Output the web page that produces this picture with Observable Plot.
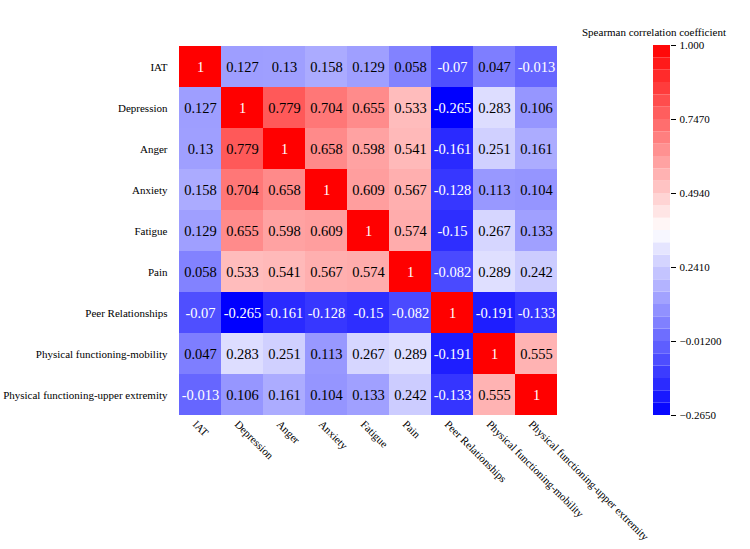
<!DOCTYPE html>
<html>
<head>
<meta charset="utf-8">
<script src="https://cdn.jsdelivr.net/npm/d3@7"></script>
<script src="https://cdn.jsdelivr.net/npm/@observablehq/plot@0.6"></script>
<style>
  body { margin: 0; background: #fff; }
  #wrap { position: relative; width: 750px; height: 549px; font-family: "Liberation Serif", "DejaVu Serif", serif; }
  #wrap svg, #wrap svg text { font-family: "Liberation Serif", "DejaVu Serif", serif !important; }
  #wrap svg { overflow: visible; }
  #main, #bar { position: absolute; top: 0; }
  #main { left: 0; }
  #bar { left: 570px; }
  #title { position: absolute; left: 582px; top: 26px; font-size: 11px; color: #000; white-space: nowrap; }
</style>
</head>
<body>
<div id="wrap">
  <div id="main"></div>
  <div id="bar"></div>
  <div id="title">Spearman correlation coefficient</div>
</div>
<script>
const variables = ["IAT", "Depression", "Anger", "Anxiety", "Fatigue", "Pain", "Peer Relationships", "Physical functioning-mobility", "Physical functioning-upper extremity"];

const rowIAT        = [1, 0.127, 0.13, 0.158, 0.129, 0.058, -0.07, 0.047, -0.013];
const rowDepression = [0.127, 1, 0.779, 0.704, 0.655, 0.533, -0.265, 0.283, 0.106];
const rowAnger      = [0.13, 0.779, 1, 0.658, 0.598, 0.541, -0.161, 0.251, 0.161];
const rowAnxiety    = [0.158, 0.704, 0.658, 1, 0.609, 0.567, -0.128, 0.113, 0.104];
const rowFatigue    = [0.129, 0.655, 0.598, 0.609, 1, 0.574, -0.15, 0.267, 0.133];
const rowPain       = [0.058, 0.533, 0.541, 0.567, 0.574, 1, -0.082, 0.289, 0.242];
const rowPeer       = [-0.07, -0.265, -0.161, -0.128, -0.15, -0.082, 1, -0.191, -0.133];
const rowMobility   = [0.047, 0.283, 0.251, 0.113, 0.267, 0.289, -0.191, 1, 0.555];
const rowUpper      = [-0.013, 0.106, 0.161, 0.104, 0.133, 0.242, -0.133, 0.555, 1];

const colorbarTicks = [1, 0.747, 0.494, 0.241, -0.012, -0.265];
const colorbarTickLabels = ["1.000", "0.7470", "0.4940", "0.2410", "\u22120.01200", "\u22120.2650"];

const rows = [rowIAT, rowDepression, rowAnger, rowAnxiety, rowFatigue, rowPain, rowPeer, rowMobility, rowUpper];
const cells = [];
rows.forEach((r, i) => r.forEach((v, j) => cells.push({row: variables[i], col: variables[j], value: v})));

const vmin = -0.265, vmax = 1, vmid = (vmin + vmax) / 2;
const colorOpts = {type: "linear", domain: [vmin, vmid, vmax], range: ["#0000ff", "#ffffff", "#ff0000"], interpolate: "rgb"};
const font = "Liberation Serif";

const main = Plot.plot({
  width: 750, height: 549,
  marginLeft: 175, marginTop: 45, marginRight: 190, marginBottom: 134,
  style: {fontFamily: font, fontSize: "11px", background: "white", color: "black"},
  x: {domain: variables, padding: 0, label: null},
  y: {domain: variables, padding: 0, label: null},
  color: colorOpts,
  marks: [
    Plot.cell(cells, {x: "col", y: "row", fill: "value"}),
    Plot.text(cells, {x: "col", y: "row", text: d => String(d.value), fontSize: 14.5,
      fill: d => (d.value < 0 || d.value === 1) ? "white" : "black"}),
    Plot.axisY({tickSize: 0, tickPadding: 8, label: null, lineWidth: 1000, fontSize: 11}),
    Plot.axisX({tickSize: 0, tickPadding: 7, tickRotate: 45, label: null, lineWidth: 1000, fontSize: 11, dx: -6})
  ]
});
document.getElementById("main").appendChild(main);

const nBands = 30;
const step = (vmax - vmin) / nBands;
const bands = d3.range(nBands).map(i => ({y1: vmin + i * step, y2: vmin + (i + 1) * step, c: vmin + (i + 0.5) * step}));

const bar = Plot.plot({
  width: 180, height: 549,
  marginLeft: 83, marginRight: 80, marginTop: 45, marginBottom: 134,
  style: {fontFamily: font, fontSize: "11px", background: "transparent", color: "black"},
  x: {domain: [0, 1], axis: null},
  y: {domain: [vmin, vmax], axis: "right", label: null, ticks: colorbarTicks, tickSize: 5, tickPadding: 4,
      tickFormat: v => colorbarTickLabels[colorbarTicks.indexOf(v)]},
  color: colorOpts,
  marks: [
    Plot.rect(bands, {x1: 0, x2: 1, y1: "y1", y2: "y2", fill: "c"})
  ]
});
document.getElementById("bar").appendChild(bar);
</script>
</body>
</html>
